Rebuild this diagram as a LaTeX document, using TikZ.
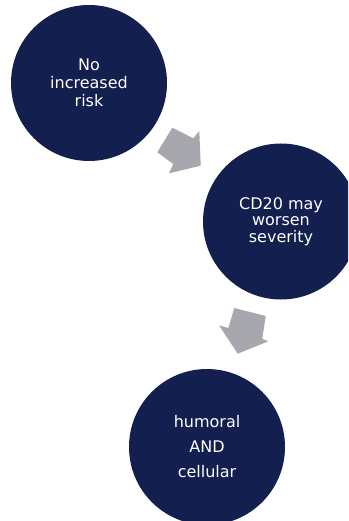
\documentclass[tikz,border=0pt]{standalone}
\usepackage{fontspec}
\setmainfont{DejaVu Sans}
\usetikzlibrary{positioning}
\definecolor{navy}{HTML}{131F4F}
\definecolor{arrowgrey}{HTML}{A7A8AE}

\begin{document}
\begin{tikzpicture}[x = 1pt, y = -1pt,
stage/.style = {shape = circle, fill = navy, text = white, minimum size = 156pt, inner sep = 0pt, align = center, font = \fontsize{16}{18}\selectfont},
wide/.style = {font = \fontsize{16}{25}\selectfont},
tight/.style = {font = \fontsize{16}{16.3}\selectfont},
blockarrow/.style = {fill = arrowgrey},
]
\useasboundingbox (0, 0) rectangle (348, 521);
\clip (0, 0) rectangle (348, 521);

\node[stage] (risk) at (89, 83) {No\\increased\\risk};
\node[stage, tight] (severity) at (281, 221.5) {CD20 may\\worsen\\severity};
\node[stage, wide] (response) at (207, 447) {humoral\\AND\\cellular};

% arrows between the stages
\fill[blockarrow] (157.3, 152.3) -- (172.3, 127.7) -- (193.3, 138.3) -- (199.3, 131) -- (200.7, 165.7) -- (169, 173.3) -- (173.3, 164) -- cycle;
\fill[blockarrow] (234.3, 308) -- (265.7, 316) -- (262.3, 338.7) -- (268.3, 341.3) -- (237.7, 353.7) -- (219, 325.3) -- (228.3, 328) -- cycle;
\end{tikzpicture}
\end{document}
